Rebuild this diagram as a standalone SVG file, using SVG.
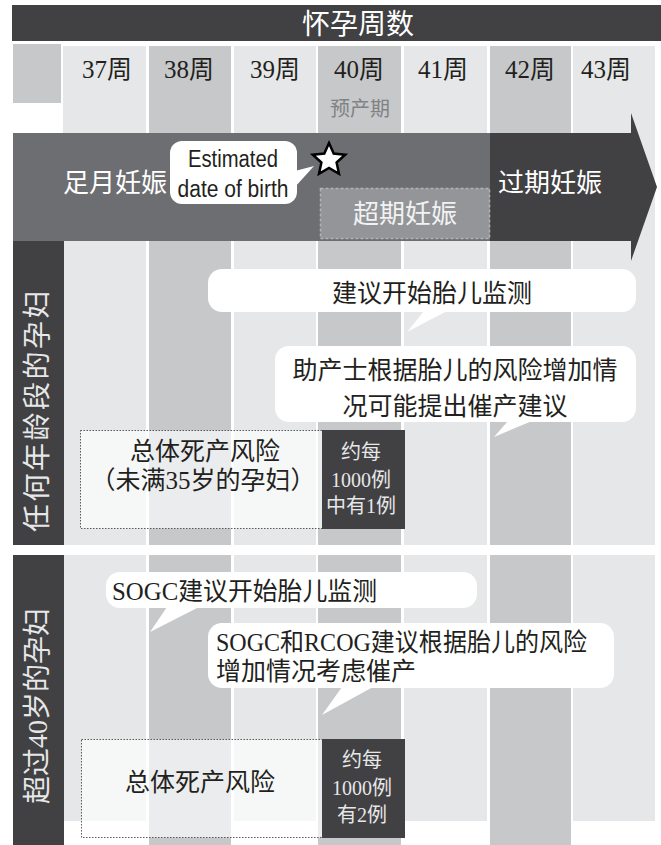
<svg xmlns="http://www.w3.org/2000/svg" width="661" height="845" viewBox="0 0 661 845">
<style>
.lc{fill:#e6e7e8}
.dc{fill:#c7c8ca}
.cj{font-family:"Liberation Serif","Noto Sans CJK SC",serif}
.wk{font-size:25px;fill:#231f20;text-anchor:middle}
.wt{fill:#ffffff;text-anchor:middle}
.bub{fill:#ffffff}
.bt{font-size:25px;fill:#231f20}
.risk{fill:#ffffff;fill-opacity:0.65;stroke:#58595b;stroke-width:1;stroke-dasharray:1.5 1.5}
.dk{fill:#414042}
.rt{font-size:20px;fill:#e6e7e8;text-anchor:middle}
.vt{font-size:28px;fill:#e6e7e8;text-anchor:middle}
</style>
<rect width="661" height="845" fill="#ffffff"/>
<g id="columns">
<rect class="lc" x="63" y="46" width="83" height="775"/>
<rect class="dc" x="149" y="46" width="82" height="799"/>
<rect class="lc" x="234" y="46" width="82" height="775"/>
<rect class="dc" x="318" y="46" width="83" height="799"/>
<rect class="lc" x="404" y="46" width="83" height="775"/>
<rect class="dc" x="490" y="46" width="81" height="799"/>
<rect class="lc" x="573" y="46" width="82" height="775"/>
<rect class="dc" x="13" y="44" width="48" height="59"/>
</g>
<g id="header">
<rect class="dk" x="12" y="5" width="649" height="36"/>
<text class="cj wt" x="358" y="34" font-size="28">怀孕周数</text>
</g>
<g id="weeks">
<text class="cj wk" x="107" y="78">37周</text>
<text class="cj wk" x="189" y="78">38周</text>
<text class="cj wk" x="275" y="78">39周</text>
<text class="cj wk" x="359" y="78">40周</text>
<text class="cj wk" x="443" y="78">41周</text>
<text class="cj wk" x="530" y="78">42周</text>
<text class="cj wk" x="606" y="78">43周</text>
<text class="cj" x="360" y="116" font-size="20" fill="#808285" text-anchor="middle">预产期</text>
</g>
<g id="band">
<rect x="13" y="133" width="478" height="108" fill="#6d6e71"/>
<polygon class="dk" points="490,133 631,133 631,113 657,187 631,261 631,241 490,241"/>
<text class="cj wt" x="115" y="192" font-size="26">足月妊娠</text>
<text class="cj wt" x="550" y="192" font-size="26">过期妊娠</text>
</g>
<g id="overdue">
<rect x="320.5" y="188.5" width="169" height="50" fill="#939598" stroke="#b1b3b6" stroke-width="1.5" stroke-dasharray="3 2"/>
<text class="cj" x="405" y="222.5" font-size="26" fill="#f1f2f2" text-anchor="middle">超期妊娠</text>
</g>
<g id="edd">
<rect class="bub" x="170" y="141" width="127" height="63" rx="12"/>
<polygon class="bub" points="295,171 295,187 314,166"/>
<text x="233" y="167" font-family="Liberation Sans, Arial, sans-serif" font-size="23" fill="#231f20" text-anchor="middle" textLength="90" lengthAdjust="spacingAndGlyphs">Estimated</text>
<text x="233" y="197" font-family="Liberation Sans, Arial, sans-serif" font-size="23" fill="#231f20" text-anchor="middle" textLength="111" lengthAdjust="spacingAndGlyphs">date of birth</text>
<polygon points="329,143 333.7,153.5 345.2,154.7 336.6,162.5 339,173.8 329,168 319,173.8 321.4,162.5 312.8,154.7 324.3,153.5" fill="#ffffff" stroke="#000000" stroke-width="2.5" stroke-linejoin="miter"/>
</g>
<g id="section1">
<rect class="dk" x="13" y="241" width="51" height="304"/>
<text class="cj vt" transform="translate(37,410) rotate(-90)" y="10" letter-spacing="2.5">任何年龄段的孕妇</text>
</g>
<g id="section2">
<rect class="dk" x="13" y="555" width="51" height="290"/>
<text class="cj vt" transform="translate(37,706) rotate(-90)" y="10">超过40岁的孕妇</text>
</g>
<g id="divider">
<rect x="14" y="545" width="647" height="10" fill="#ffffff"/>
</g>
<g id="bubble1">
<rect class="bub" x="208" y="269" width="428" height="43" rx="14"/>
<polygon class="bub" points="424,311 447,311 407,332"/>
<text class="cj bt" x="432" y="302" font-size="26" text-anchor="middle">建议开始胎儿监测</text>
</g>
<g id="bubble2">
<rect class="bub" x="275" y="346" width="361" height="76" rx="14"/>
<polygon class="bub" points="508,421 532,421 494,437"/>
<text class="cj bt" x="455" y="378.5" font-size="26" text-anchor="middle">助产士根据胎儿的风险增加情</text>
<text class="cj bt" x="455" y="414.5" font-size="26" text-anchor="middle">况可能提出催产建议</text>
</g>
<g id="risk1">
<rect class="risk" x="80.5" y="430.5" width="324" height="98"/>
<rect class="dk" x="322" y="430" width="83" height="99"/>
<text class="cj bt" x="205" y="460" text-anchor="middle">总体死产风险</text>
<text class="cj bt" x="203" y="489" text-anchor="middle">（未满35岁的孕妇）</text>
<text class="cj rt" x="361" y="459">约每</text>
<text class="cj rt" x="361" y="487">1000例</text>
<text class="cj rt" x="361" y="513">中有1例</text>
</g>
<g id="bubble3">
<rect class="bub" x="106" y="572" width="371" height="36" rx="14"/>
<polygon class="bub" points="167,607 199,607 150,632"/>
<text class="cj bt" x="112" y="600" textLength="265" lengthAdjust="spacingAndGlyphs">SOGC建议开始胎儿监测</text>
</g>
<g id="bubble4">
<rect class="bub" x="208" y="623" width="406" height="65" rx="14"/>
<polygon class="bub" points="342,687 373,687 322,715"/>
<text class="cj bt" x="216" y="651" textLength="371" lengthAdjust="spacingAndGlyphs">SOGC和RCOG建议根据胎儿的风险</text>
<text class="cj bt" x="216" y="680">增加情况考虑催产</text>
</g>
<g id="risk2">
<rect class="risk" x="81.5" y="739.5" width="323" height="98"/>
<rect class="dk" x="322" y="739" width="83" height="99"/>
<text class="cj bt" x="200" y="791" text-anchor="middle">总体死产风险</text>
<text class="cj rt" x="362" y="767">约每</text>
<text class="cj rt" x="362" y="795">1000例</text>
<text class="cj rt" x="362" y="822">有2例</text>
</g>
<g id="connectors"/>
</svg>
